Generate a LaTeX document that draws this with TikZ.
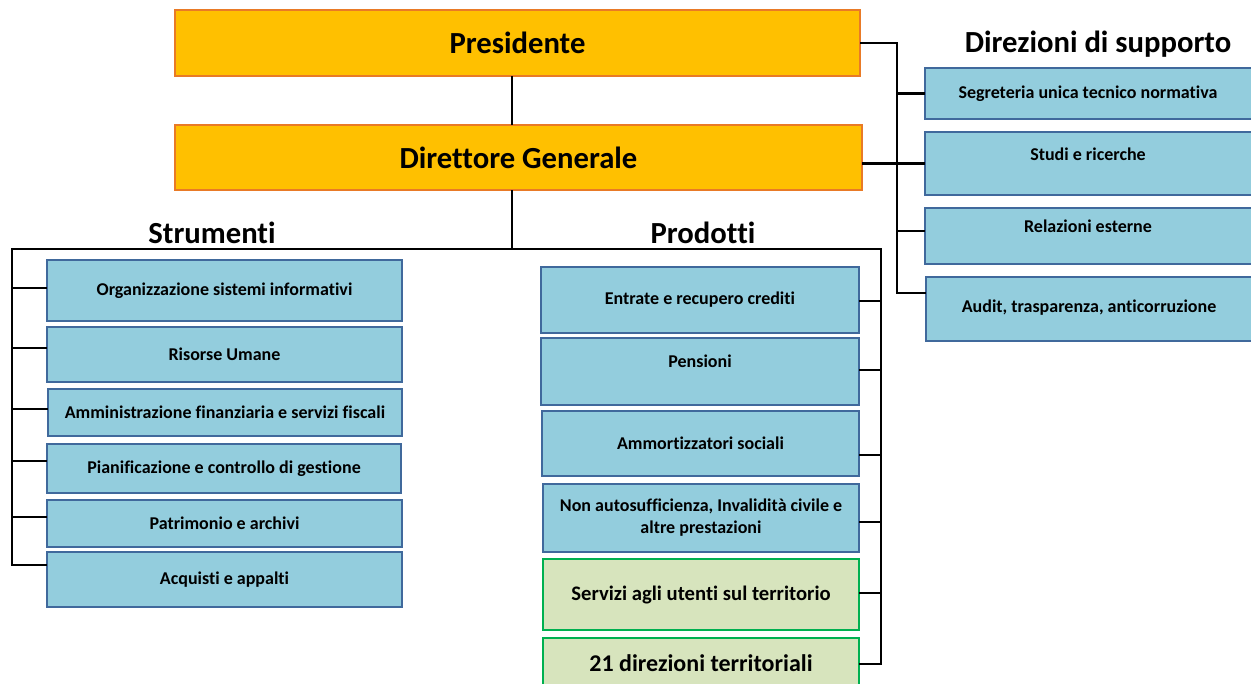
\documentclass[tikz,border=0pt]{standalone}
\usepackage{fontspec}
\setmainfont{Carlito}[Ligatures={NoCommon}]
\definecolor{orfill}{HTML}{FFC000}
\definecolor{ordraw}{HTML}{E97A26}
\definecolor{blfill}{HTML}{93CDDD}
\definecolor{bldraw}{HTML}{40699C}
\definecolor{grfill}{HTML}{D7E4BD}
\definecolor{grdraw}{HTML}{00B050}
\tikzset{
  topbox/.style={draw=ordraw, fill=orfill, line width=1.6pt, inner sep=0pt, font=\bfseries\fontsize{23}{27}\selectfont},
  bbox/.style={draw=bldraw, fill=blfill, line width=1.5pt, inner sep=0pt, align=center, font=\bfseries\fontsize{13.5}{16.5}\selectfont},
  gbox/.style={draw=grdraw, fill=grfill, line width=1.5pt, inner sep=0pt, align=center},
  lbl/.style={inner sep=0pt, align=center, font=\bfseries\fontsize{13.5}{16.5}\selectfont},
  ttl/.style={inner sep=0pt, font=\bfseries\fontsize{23}{27}\selectfont},
  conn/.style={line width=2.1pt, black, line cap=rect}
}
% \mkbox{style}{name}{x1}{y1}{x2}{y2}{text}
\newcommand\mkbox[7]{%
  \node[#1, minimum width={(#5-#3)*0.75pt}, minimum height={(#6-#4)*0.75pt}] (#2) at ({(#3+#5)/2},{(#4+#6)/2}) {#7};}
\begin{document}
\begin{tikzpicture}[x=0.75pt,y=-0.75pt]
\clip (0,0) rectangle (1251,684);
\fill[white] (0,0) rectangle (1251,684);
% top boxes
\mkbox{topbox}{pres}{175}{10}{860}{76}{Presidente}
\mkbox{topbox}{dg}{175}{125}{862}{190}{Direttore Generale}
% titles
\node[ttl] (tstr) at (212,233) {Strumenti};
\node[ttl] (tprod) at (703,233) {Prodotti};
\node[ttl] (tsup) at (1098,44) {Direzioni di supporto};
% strumenti
\mkbox{bbox}{s1}{47}{260}{402}{321}{Organizzazione sistemi informativi}
\mkbox{bbox}{s2}{47}{327}{402}{382}{Risorse Umane}
\mkbox{bbox}{s3}{48}{389}{402}{436}{Amministrazione finanziaria e servizi fiscali}
\mkbox{bbox}{s4}{47}{444}{401}{493}{Pianificazione e controllo di gestione}
\mkbox{bbox}{s5}{47}{500}{402}{547}{Patrimonio e archivi}
\mkbox{bbox}{s6}{47}{552}{402}{607}{Acquisti e appalti}
% prodotti
\mkbox{bbox}{p1}{541}{267}{859}{333}{Entrate e recupero crediti}
\mkbox{bbox}{p2}{541}{338}{859}{405}{}
\node[lbl] (p2t) at (700,361) {Pensioni};
\mkbox{bbox}{p3}{542}{411}{859}{476}{Ammortizzatori sociali}
\mkbox{bbox}{p4}{543}{484}{859}{552}{Non autosufficienza, Invalidità civile e\\altre prestazioni}
\mkbox{gbox,font=\bfseries\fontsize{15.5}{18}\selectfont}{p5}{543}{559}{859}{630}{Servizi agli utenti sul territorio}
\mkbox{gbox,font=\bfseries\fontsize{18}{22}\selectfont}{p6}{543}{638}{859}{688}{21 direzioni territoriali}
% supporto
\mkbox{bbox}{d1}{925}{68}{1256}{119}{}
\node[lbl] (d1t) at (1088,94) {Segreteria unica tecnico normativa};
\mkbox{bbox}{d2}{925}{132}{1256}{195}{}
\node[lbl] (d2t) at (1088,154) {Studi e ricerche};
\mkbox{bbox}{d3}{925}{208}{1256}{264}{}
\node[lbl] (d3t) at (1088,226) {Relazioni esterne};
\mkbox{bbox}{d4}{926}{277}{1256}{341}{}
\node[lbl] (d4t) at (1089,308) {Audit, trasparenza, anticorruzione};
% connectors
\coordinate (hm) at (512,249);
\coordinate (hl) at (12,249);
\coordinate (hr) at (881,249);
\coordinate (lb) at (12,565);
\coordinate (rb) at (881,664);
\coordinate (st) at (897,43);
\coordinate (sb) at (897,293);
\draw[conn] (pres.south -| hm) -- (dg.north -| hm);
\draw[conn] (dg.south -| hm) -- (hm);
\draw[conn] (hl) -- (hr);
\draw[conn] (hl) -- (lb) -- (s6.west |- lb);
\draw[conn] (hl |- 0,288) -- (s1.west |- 0,288);
\draw[conn] (hl |- 0,348) -- (s2.west |- 0,348);
\draw[conn] (hl |- 0,409) -- (s3.west |- 0,409);
\draw[conn] (hl |- 0,461) -- (s4.west |- 0,461);
\draw[conn] (hl |- 0,517) -- (s5.west |- 0,517);
\draw[conn] (hr) -- (rb) -- (p6.east |- rb);
\draw[conn] (hr |- 0,301) -- (p1.east |- 0,301);
\draw[conn] (hr |- 0,370) -- (p2.east |- 0,370);
\draw[conn] (hr |- 0,455) -- (p3.east |- 0,455);
\draw[conn] (hr |- 0,522) -- (p4.east |- 0,522);
\draw[conn] (hr |- 0,593) -- (p5.east |- 0,593);
\draw[conn] (pres.east) -- (st) -- (sb) -- (d4.west |- sb);
\draw[conn] (dg.east |- d2.west) -- (d2.west);
\draw[conn] (st |- d1.west) -- (d1.west);
\draw[conn] (st |- 0,231) -- (d3.west |- 0,231);
\end{tikzpicture}
\end{document}
